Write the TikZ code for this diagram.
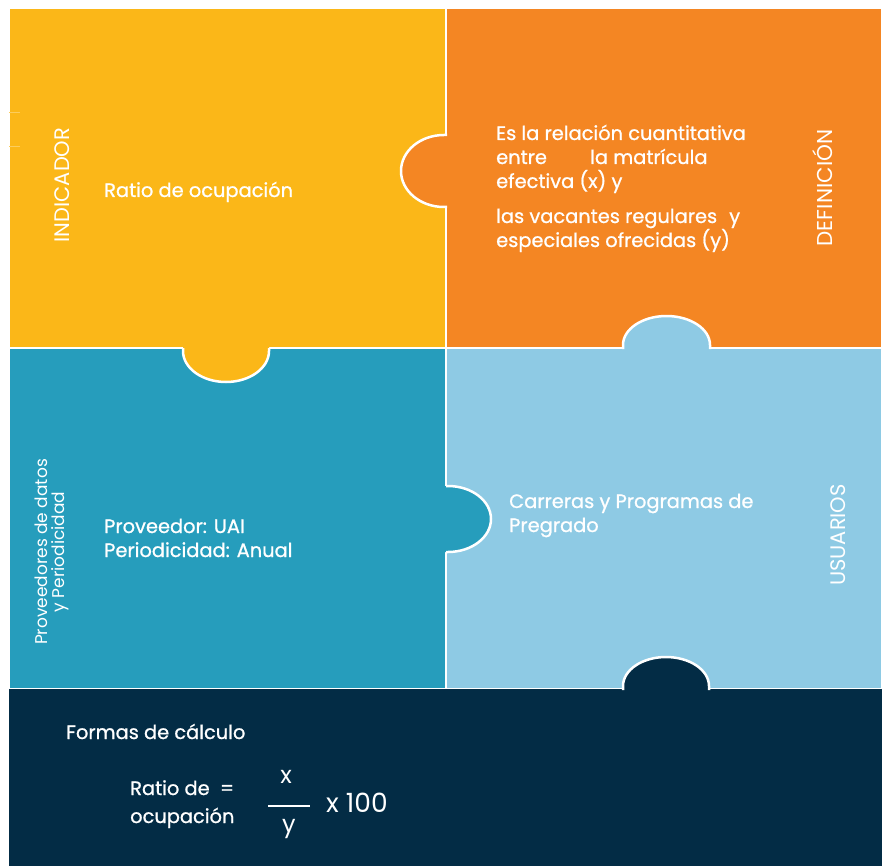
\documentclass[tikz,border=0pt]{standalone}
\usepackage{fontspec}
\setmainfont{Poppins}
\newfontfamily\med{Poppins}[FakeBold=0.9]
\definecolor{cyel}{RGB}{251,183,24}
\definecolor{cora}{RGB}{244,134,35}
\definecolor{cteal}{RGB}{38,157,188}
\definecolor{clight}{RGB}{142,202,228}
\definecolor{cnavy}{RGB}{3,44,69}
\begin{document}
\begin{tikzpicture}[x=1pt,y=-1pt,
  panel/.style={line width=2.5pt,draw=white},
  edge/.style={line width=2.5pt,draw=white},
  body/.style={text=white,anchor=base west,inner sep=0pt,font=\med\fontsize{19.4}{23}\selectfont},
  side/.style={text=white,rotate=90,inner sep=0pt,font=\fontsize{21}{24}\selectfont},
]
\useasboundingbox[fill=white] (0,0) rectangle (882,866);
% panels
\path[panel,fill=cyel] (9,8) rectangle (446,348);
\path[panel,fill=cora] (446,8) rectangle (882,348);
\path[panel,fill=cteal] (9,348) rectangle (446,689);
\path[panel,fill=clight] (446,348) rectangle (882,689);
\path[panel,fill=cnavy] (9,689) rectangle (882,866);
\fill[cnavy] (9,689) rectangle (882,866);
% faint marks
\draw[cyel!70!white,line width=0.6pt] (9,112) -- (20,112) (9,146) -- (20,146);
% tab: orange into yellow
\fill[cora] (456,135) -- (444,135) arc[start angle=270,end angle=90,x radius=43,y radius=36] -- (456,207) -- cycle;
\draw[edge] (447,135) -- (444,135) arc[start angle=270,end angle=90,x radius=43,y radius=36] -- (447,207);
% tab: yellow into teal
\fill[cyel] (183,338) -- (183,351) arc[start angle=180,end angle=0,x radius=43,y radius=31] -- (269,338) -- cycle;
\draw[edge] (183,348) -- (183,351) arc[start angle=180,end angle=0,x radius=43,y radius=31] -- (269,348);
% tab: light blue into orange
\fill[clight] (623,358) -- (623,345) arc[start angle=180,end angle=360,x radius=43.5,y radius=29] -- (710,358) -- cycle;
\draw[edge] (623,349) -- (623,345) arc[start angle=180,end angle=360,x radius=43.5,y radius=29] -- (710,349);
% tab: teal into light blue
\fill[cteal] (436,486) -- (448,486) arc[start angle=270,end angle=450,x radius=43,y radius=33] -- (436,552) -- cycle;
\draw[edge] (446,486) -- (448,486) arc[start angle=270,end angle=450,x radius=43,y radius=33] -- (446,552);
% tab: navy into light blue
\fill[cnavy] (623,699) -- (623,686) arc[start angle=180,end angle=360,x radius=43,y radius=29] -- (709,699) -- cycle;
\draw[edge] (623,690) -- (623,686) arc[start angle=180,end angle=360,x radius=43,y radius=29] -- (709,690);
% texts
\node[side] (ind) at (62,185) {INDICADOR};
\node[body] (ratio) at (104,197) {Ratio de ocupación};
\node[body] (d1) at (496,140) {Es la relación cuantitativa};
\node[body] (d2a) at (496,164) {entre};
\node[body] (d2b) at (590,164) {la matrícula};
\node[body] (d3) at (496,188) {efectiva (x) y};
\node[body] (d4a) at (496,223) {las vacantes regulares};
\node[body] (d4b) at (729,223) {y};
\node[body] (d5) at (496,247) {especiales ofrecidas (y)};
\node[side,font=\fontsize{21.5}{24}\selectfont] (def) at (823,188) {DEFINICIÓN};
\node[side,align=center,font=\fontsize{17}{17.5}\selectfont] (prov) at (52,552) {Proveedores de datos\\y Periodicidad};
\node[body] (p1) at (104,533) {Proveedor: UAI};
\node[body] (p2) at (104,557) {Periodicidad: Anual};
\node[body] (u1) at (509,508) {Carreras y Programas de};
\node[body] (u2) at (509,532) {Pregrado};
\node[side] (usu) at (838,535) {USUARIOS};
\node[body] (f0) at (66,739) {Formas de cálculo};
\node[body] (f1) at (130,795) {Ratio de \ =};
\node[body] (f2) at (130,823) {ocupación};
\node[text=white,inner sep=0pt,font=\fontsize{24}{26}\selectfont] (fx) at (286,777) {x};
\node[text=white,inner sep=0pt,font=\fontsize{24}{26}\selectfont] (fy) at (289,829) {y};
\coordinate (l1) at (268,806);
\coordinate (l2) at (310,806);
\draw[white,line width=1.2pt] (l1) -- (l2);
\node[text=white,anchor=base west,inner sep=0pt,font=\fontsize{26.5}{28}\selectfont] (f100) at (326,812) {x 100};
\end{tikzpicture}
\end{document}
